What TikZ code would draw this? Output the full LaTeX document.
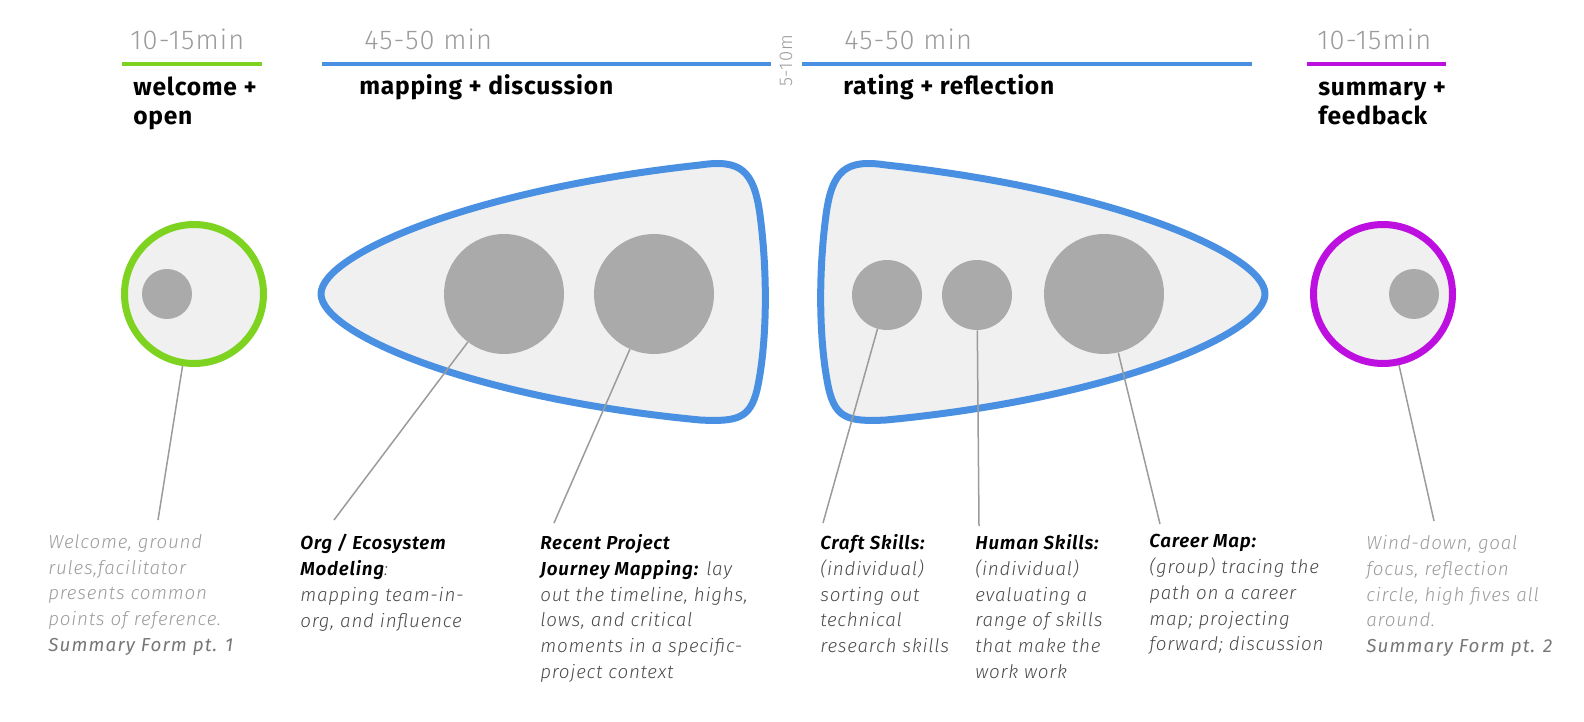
\documentclass[tikz,border=0pt]{standalone}
\usepackage{fontspec}
\setmainfont{Fira Sans}
\newfontfamily\lightfont{Fira Sans Light}[LetterSpace=4,ItalicFont={Fira Sans Light Italic},BoldFont={Fira Sans SemiBold},BoldItalicFont={Fira Sans SemiBold Italic}]
\usetikzlibrary{positioning}
\definecolor{grn}{HTML}{7ED321}
\definecolor{blu}{HTML}{4A90E2}
\definecolor{mag}{HTML}{BD10E0}
\definecolor{paper}{HTML}{F0F0F0}
\definecolor{dotgray}{HTML}{AAAAAA}
\definecolor{leadgray}{HTML}{9B9B9B}
\definecolor{inkgray}{HTML}{4A4A4A}
\definecolor{formgray}{HTML}{777777}
\newcommand\skillhead[1]{\textcolor{black}{\textbf{#1}}}
\newcommand\formref[1]{{\normalfont\itshape\addfontfeature{LetterSpace=6}\color{formgray}#1}}

\begin{document}
\begin{tikzpicture}[x=0.02cm, y=-0.02cm,
    ring/.style={circle, draw=#1, line width=0.14cm, fill=paper, minimum size=2.78cm, inner sep=0},
    dot/.style={circle, fill=dotgray, minimum size=#1*0.04cm, inner sep=0},
    blob/.style={draw=blu, line width=0.14cm, fill=paper, line join=round},
    bar/.style={line width=0.08cm},
    time/.style={anchor=base west, inner sep=0, text=leadgray, font=\lightfont\fontsize{15.5}{17}\selectfont},
    phase/.style={anchor=base west, inner sep=0, align=left, font=\bfseries\addfontfeature{LetterSpace=3}\fontsize{14}{17}\selectfont},
    note/.style={anchor=north west, inner sep=0, align=left, text=inkgray, font=\lightfont\itshape\fontsize{10.7}{14.7}\selectfont},
    lead/.style={draw=leadgray, line width=0.03cm},
]
\useasboundingbox (0,0) rectangle (1584,722);

\node[time] (welcomeTime) at (130,50) {10-15min};
\node[time] (mappingTime) at (364,50) {45-50 min};
\node[time] (ratingTime) at (844,50) {45-50 min};
\node[time] (summaryTime) at (1317,50) {10-15min};
\node[rotate=90, inner sep=0, text=leadgray, font=\lightfont\fontsize{10.5}{12}\selectfont] (breakTime) at (786,61) {5-10m};

\draw[bar, grn] (122,64) -- (262,64);
\draw[bar, blu] (322,64) -- (771,64);
\draw[bar, blu] (802,64) -- (1252,64);
\draw[bar, mag] (1307,64) -- (1446,64);

% two-line phases sit on the baseline of their last line
\node[phase] (welcomePhase) at (133,125) {welcome +\\open};
\node[phase] (mappingPhase) at (359,95) {mapping + discussion};
\node[phase] (ratingPhase) at (843,95) {rating + reflection};
\node[phase] (summaryPhase) at (1318,125) {summary +\\feedback};

\node[ring=grn] (welcomeRing) at (194,294) {};
\node[dot=25] (welcomeDot) at (167,294) {};

\draw[blob] (321,294) .. controls (321,255) and (470,190) .. (700,165)
    .. controls (740,159) and (754,170) .. (760,215)
    .. controls (768,275) and (767,345) .. (757,390)
    .. controls (750,418) and (738,422) .. (700,420)
    .. controls (470,398) and (321,333) .. cycle;
\node[dot=60] (orgDot) at (504,294) {};
\node[dot=60] (journeyDot) at (654,294) {};

\draw[blob] (1265,294) .. controls (1265,255) and (1116,190) .. (886,165)
    .. controls (846,159) and (832,170) .. (826,215)
    .. controls (818,275) and (819,345) .. (829,390)
    .. controls (836,418) and (848,422) .. (886,420)
    .. controls (1116,398) and (1265,333) .. cycle;
\node[dot=35] (craftDot) at (887,295) {};
\node[dot=35] (humanDot) at (977,295) {};
\node[dot=60] (careerDot) at (1104,294) {};

\node[ring=mag] (summaryRing) at (1383,294) {};
\node[dot=25] (summaryDot) at (1414,294) {};

\coordinate (welcomeEnd) at (158,520);
\coordinate (orgEnd) at (334,520);
\coordinate (journeyEnd) at (554,523);
\coordinate (craftEnd) at (823,523);
\coordinate (humanEnd) at (979,526);
\coordinate (careerEnd) at (1160,524);
\coordinate (summaryEnd) at (1434,521);

\draw[lead] (welcomeRing) -- (welcomeEnd);
\draw[lead] (orgDot) -- (orgEnd);
\draw[lead] (journeyDot) -- (journeyEnd);
\draw[lead] (craftDot) -- (craftEnd);
\draw[lead] (humanDot) -- (humanEnd);
\draw[lead] (careerDot) -- (careerEnd);
\draw[lead] (summaryRing) -- (summaryEnd);

\node[note, text=leadgray] (welcomeNote) at (48,534) {Welcome, ground\\rules,facilitator\\presents common\\points of reference.\\\formref{Summary Form pt. 1}};
\node[note] (orgNote) at (300,534) {\skillhead{Org / Ecosystem}\\\skillhead{Modeling}:\\mapping team-in-\\org, and influence};
\node[note] (journeyNote) at (540,534) {\skillhead{Recent Project}\\\skillhead{Journey Mapping:} lay\\out the timeline, highs,\\lows, and critical\\moments in a specific-\\project context};
\node[note] (craftNote) at (820,534) {\skillhead{Craft Skills:}\\(individual)\\sorting out\\technical\\research skills};
\node[note] (humanNote) at (975,534) {\skillhead{Human Skills:}\\(individual)\\evaluating a\\range of skills\\that make the\\work work};
\node[note] (careerNote) at (1149,534) {\skillhead{Career Map:}\\(group) tracing the\\path on a career\\map; projecting\\forward; discussion};
\node[note, text=leadgray] (summaryNote) at (1366,535) {Wind-down, goal\\focus, reflection\\circle, high fives all\\around.\\\formref{Summary Form pt. 2}};
\end{tikzpicture}
\end{document}
